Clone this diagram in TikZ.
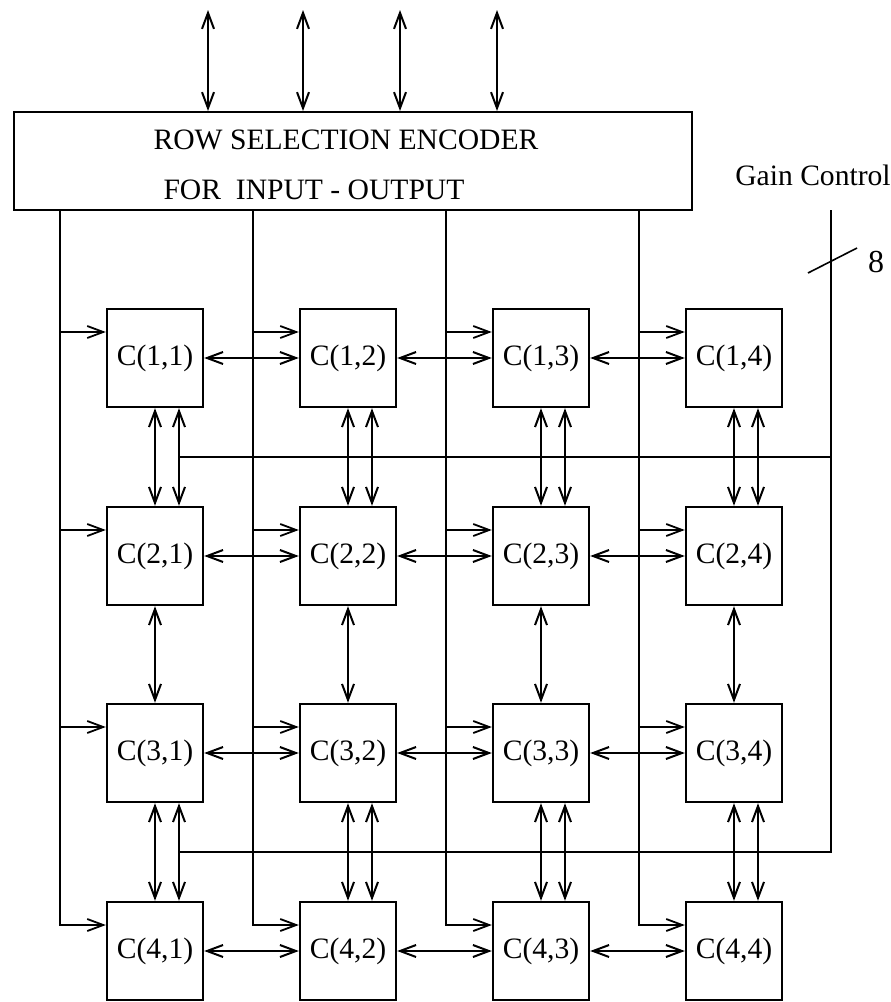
\documentclass[tikz,border=0pt]{standalone}
\usepackage{fontspec}
\setmainfont{Liberation Serif}
\usetikzlibrary{arrows.meta,calc}
\begin{document}
\begin{tikzpicture}[x=0.5pt, y=-0.5pt, font=\fontsize{14.8}{17}\selectfont,
		cellbox/.style={draw, line width=1.2pt, minimum width=48pt, minimum height=49pt, inner sep=0pt},
		feed/.style={line width=0.8pt},
		biarrow/.style={line width=1pt, {Straight Barb[length=8pt,width=6pt]}-{Straight Barb[length=8pt,width=6pt]}},
		inarrow/.style={line width=0.9pt, -{Straight Barb[length=8pt,width=6pt]}}]
		\useasboundingbox (0,0) rectangle (890,1002);

		% --- encoder box and its two text lines ---
		\node[draw, line width=1pt, minimum width=339pt, minimum height=49pt, inner sep=0pt] (enc) at (353,161) {};
		\node (encA) at (346,140) {ROW SELECTION ENCODER};
		\node (encB) at (314,190) {FOR\ \ INPUT - OUTPUT};

		% --- input-output lines on top of the encoder ---
		\foreach \x [count=\i] in {208,303,400,497} {
			\coordinate (io\i) at (\x,10);
			\draw[biarrow] (io\i) -- (io\i |- enc.north);
		}

		% --- cells C(r,c) ---
		\foreach \r/\yy in {1/358, 2/556, 3/753, 4/951} {
			\foreach \c/\xx in {1/155, 2/348, 3/541, 4/734} {
				\node[cellbox] (c\r\c) at (\xx,\yy) {\raisebox{-2pt}{C(\r,\c)}};
				\coordinate (in\r\c) at ([yshift=13pt]c\r\c.west);
			}
		}

		% --- feed lines from the encoder, down the left of each column ---
		\foreach \c/\xx in {1/60, 2/253, 3/446, 4/639} {
			\coordinate (f\c) at (\xx,0);
			\draw[inarrow] (f\c |- enc.south) -- (f\c |- in4\c) -- (in4\c);
			\foreach \r in {1,2,3} {
				\draw[inarrow] (f\c |- in\r\c) -- (in\r\c);
			}
		}

		% --- horizontal links between neighbours ---
		\foreach \r in {1,...,4} {
			\foreach \c/\d in {1/2, 2/3, 3/4} {
				\draw[biarrow] (c\r\c.east) -- (c\r\d.west);
			}
		}

		% --- vertical links (double between rows 1-2 and 3-4) ---
		\foreach \c in {1,...,4} {
			\draw[biarrow] (c1\c.south) -- (c2\c.north);
			\draw[biarrow] ([xshift=12pt]c1\c.south) -- ([xshift=12pt]c2\c.north);
			\draw[biarrow] (c2\c.south) -- (c3\c.north);
			\draw[biarrow] (c3\c.south) -- (c4\c.north);
			\draw[biarrow] ([xshift=12pt]c3\c.south) -- ([xshift=12pt]c4\c.north);
		}

		% --- gain control bus ---
		\coordinate (gtop) at (831,210);
		\coordinate (gA) at ($([xshift=12pt]c11.south)!0.5!([xshift=12pt]c21.north)$);
		\coordinate (gB) at ($([xshift=12pt]c31.south)!0.5!([xshift=12pt]c41.north)$);
		\draw[feed] (gtop) -- (gtop |- gB) -- (gB);
		\draw[feed] (gA) -- (gA -| gtop);
		\draw[feed] ([shift={(-23,63)}]gtop) -- ([shift={(26,38)}]gtop);
		\node (gain) at (813,175) {Gain Control};
		\node[font=\fontsize{16}{18}\selectfont] (bits) at (876,262) {8};
	\end{tikzpicture}
\end{document}
